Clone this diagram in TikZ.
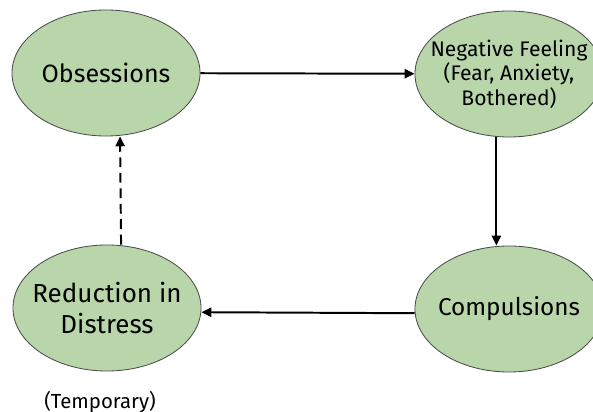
\documentclass[tikz,border=0pt]{standalone}
\usepackage{fontspec}
\setmainfont{Fira Sans}
\usepackage{xcolor}
\usetikzlibrary{arrows.meta,positioning,shapes.geometric}
\definecolor{leaf}{RGB}{184,214,170}

\begin{document}
\begin{tikzpicture}[x=0.025cm, y=0.025cm,
    blob/.style={ellipse, draw=black!70, line width=0.6pt, fill=leaf, minimum width=4.7cm, minimum height=3.15cm, align=center, inner xsep=-0.6cm, inner ysep=0pt},
    arrow/.style={-{Triangle[length=7pt,width=6.5pt]}, line width=1.4pt}
]
\clip (0,0) rectangle (593,412);
\useasboundingbox (0,0) rectangle (593,412);
\node[blob, font=\fontsize{17.8}{22}\selectfont] (obs) at (106,339) {Obsessions};
\node[blob, font=\fontsize{15}{17.5}\selectfont] (neg) at (509,338) {Negative Feeling\\(Fear, Anxiety,\\Bothered)};
\node[blob, font=\fontsize{17.3}{22}\selectfont] (comp) at (509,103) {Compulsions};
\node[blob, font=\fontsize{18.5}{22}\selectfont] (red) at (107,104) {Reduction in\\Distress};
\node[font=\fontsize{14.5}{16}\selectfont] (temp) at (100,10) {(Temporary)};

\draw[arrow] (obs) -- (neg);
\draw[arrow] ([xshift=-9]neg.south) -- ([xshift=-9]comp.north);
\draw[arrow] ([yshift=-3]comp.west) -- ([yshift=-3]red.east);
\draw[arrow, dash pattern=on 7pt off 4pt] ([xshift=10]red.north) -- ([xshift=10]obs.south);
\end{tikzpicture}
\end{document}
